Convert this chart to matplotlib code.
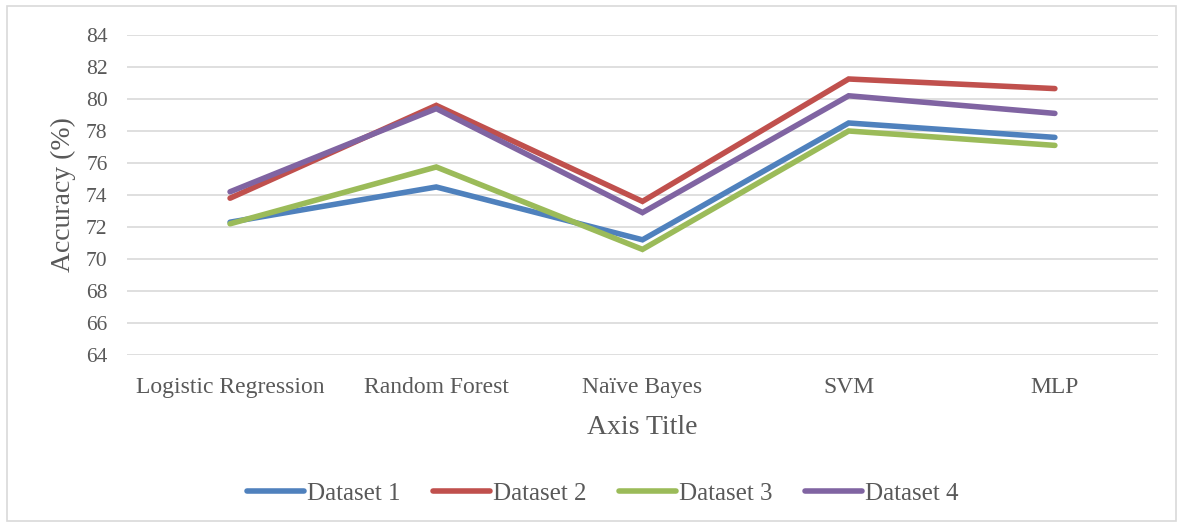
import matplotlib.pyplot as plt
from matplotlib.patches import Rectangle

models = ["Logistic Regression", "Random Forest", "Naïve Bayes", "SVM", "MLP"]
dataset1 = [72.3, 74.5, 71.2, 78.5, 77.6]
dataset2 = [73.8, 79.6, 73.6, 81.25, 80.65]
dataset3 = [72.2, 75.75, 70.6, 78.0, 77.1]
dataset4 = [74.2, 79.4, 72.9, 80.2, 79.1]
series_names = ["Dataset 1", "Dataset 2", "Dataset 3", "Dataset 4"]
colors = ["#4F81BD", "#C0504D", "#9BBB59", "#8064A2"]

plt.rcParams["font.family"] = ["Liberation Serif", "DejaVu Serif"]

fig = plt.figure(figsize=(11.81, 5.27), dpi=100)
ax = fig.add_axes([0.1075, 0.3264, 0.873, 0.6072])

x = list(range(len(models)))
for name, vals, col in zip(series_names, [dataset1, dataset2, dataset3, dataset4], colors):
    ax.plot(x, vals, color=col, lw=4.0, label=name, solid_capstyle="round",
            solid_joinstyle="miter")

ax.set_xlim(-0.5, len(models) - 0.5)
ax.set_ylim(64, 84)
ax.set_yticks(range(64, 85, 2))
ax.set_xticks(x)
ax.set_xticklabels(models)
ax.grid(axis="y", color="#d9d9d9", lw=1.2)
ax.set_axisbelow(True)
for s in ax.spines.values():
    s.set_visible(False)
ax.tick_params(length=0, colors="#595959")
ax.tick_params(axis="y", labelsize=15.5, pad=14)
ax.tick_params(axis="x", labelsize=17, pad=16)

ax.set_ylabel("Accuracy (%)", fontsize=20, color="#595959", labelpad=7)
ax.set_xlabel("Axis Title", fontsize=20, color="#595959", labelpad=12)

leg = fig.legend(loc="center", bbox_to_anchor=(0.51, 0.064), ncol=4, frameon=False,
                 fontsize=18, handlelength=2.3, handletextpad=0.1, columnspacing=1.3)
for t in leg.get_texts():
    t.set_color("#595959")

fig.patches.append(Rectangle((0.006, 0.012), 0.99, 0.976, transform=fig.transFigure,
                             fill=False, edgecolor="#d9d9d9", lw=1.2))

fig.savefig("out.png", dpi=100)
